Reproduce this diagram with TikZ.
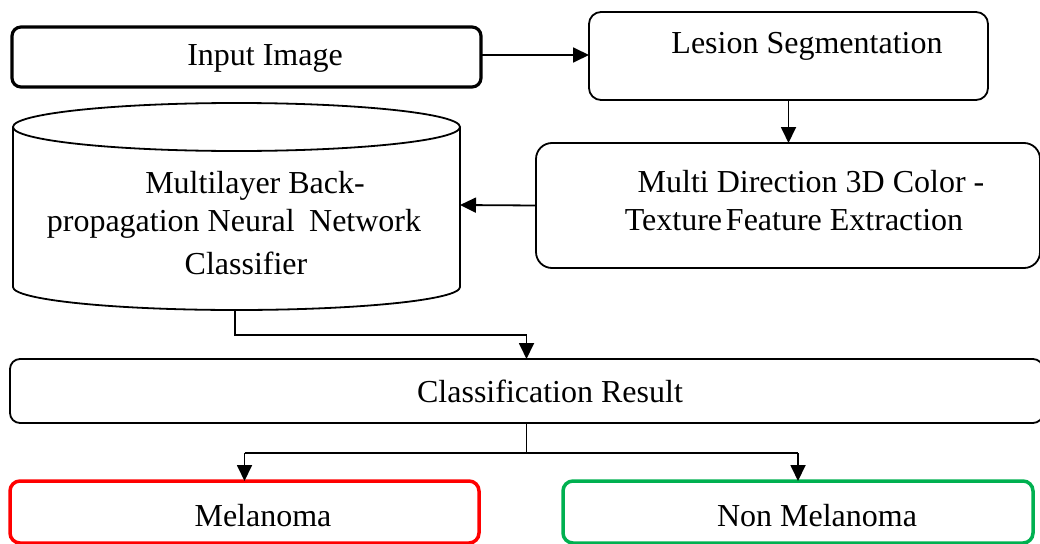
\documentclass[tikz,border=0pt]{standalone}
\usepackage{fontspec}
\setmainfont{Liberation Serif}
\usetikzlibrary{arrows.meta}
\definecolor{mred}{RGB}{255,0,0}
\definecolor{mgreen}{RGB}{0,176,80}
\begin{document}
\begin{tikzpicture}[x=1pt,y=-1pt,
  every node/.style={inner sep=0pt,outer sep=0pt},
  txt/.style={font=\fontsize{32}{38}\selectfont},
  box/.style={draw,line width=1.8pt,rounded corners=12pt},
  conn/.style={line width=1.8pt},
  arr/.style={line width=1.8pt,-{Triangle[length=16pt,width=15pt]}}]
\useasboundingbox (0,0) rectangle (1040,543);
% boxes
\node[box,line width=3.2pt,rounded corners=9pt,minimum width=469pt,minimum height=60pt] (input) at (246.5,57) {};
\node[txt] (inputT) at (265,58) {Input Image};
\node[box,minimum width=399pt,minimum height=88pt] (lesion) at (788.5,56) {};
\node[txt] (lesionT) at (807,46) {Lesion Segmentation};
\node[box,rounded corners=16pt,minimum width=504pt,minimum height=125pt] (multi) at (788,205.5) {};
\node[txt] (multiT1) at (811,182) {Multi Direction 3D Color -};
\node[txt] (multiT2) at (794,220) {Texture\hspace{0.12em}Feature Extraction};
% cylinder
\draw[conn] (13,127) -- (13,287) arc[start angle=180,end angle=360,x radius=223.5pt,y radius=23pt] -- (460,127);
\draw[conn] (236.5,127) ellipse [x radius=223.5pt,y radius=24pt];
\coordinate (cylR) at (460,205);
\coordinate (cylB) at (235,310);
\node[txt] (cylT1) at (255,186) {Multilayer Back-};
\node[txt] (cylT2) at (234,224) {propagation Neural\hspace{0.2em} Network};
\node[txt] (cylT3) at (246,263) {Classifier};
% classification
\node[box,rounded corners=10pt,minimum width=1033pt,minimum height=64pt] (class) at (526.5,391) {};
\node[txt] (classT) at (550,391) {Classification Result};
\node[box,draw=mred,line width=3.5pt,rounded corners=10pt,minimum width=469pt,minimum height=62pt] (mel) at (244.5,512) {};
\node[txt] (melT) at (263,516) {Melanoma};
\node[box,draw=mgreen,line width=3.5pt,rounded corners=10pt,minimum width=470pt,minimum height=62pt] (non) at (798,512) {};
\node[txt] (nonT) at (817,516) {Non Melanoma};
% connectors
\draw[arr] (input.east |- 0,55) -- (lesion.west |- 0,55);
\draw[arr] (lesion.south) -- (lesion.south |- multi.north);
\draw[arr] (multi.west) -- (cylR);
\draw[arr] (cylB) -- (235,335) -- (class.north |- 0,335) -- (class.north);
\draw[conn] (class.south) -- (class.south |- 0,453);
\draw[arr] (mel.north |- 0,453) -- (mel.north);
\draw[arr] (non.north |- 0,453) -- (non.north);
\draw[conn] (mel.north |- 0,453) -- (non.north |- 0,453);
\end{tikzpicture}
\end{document}
